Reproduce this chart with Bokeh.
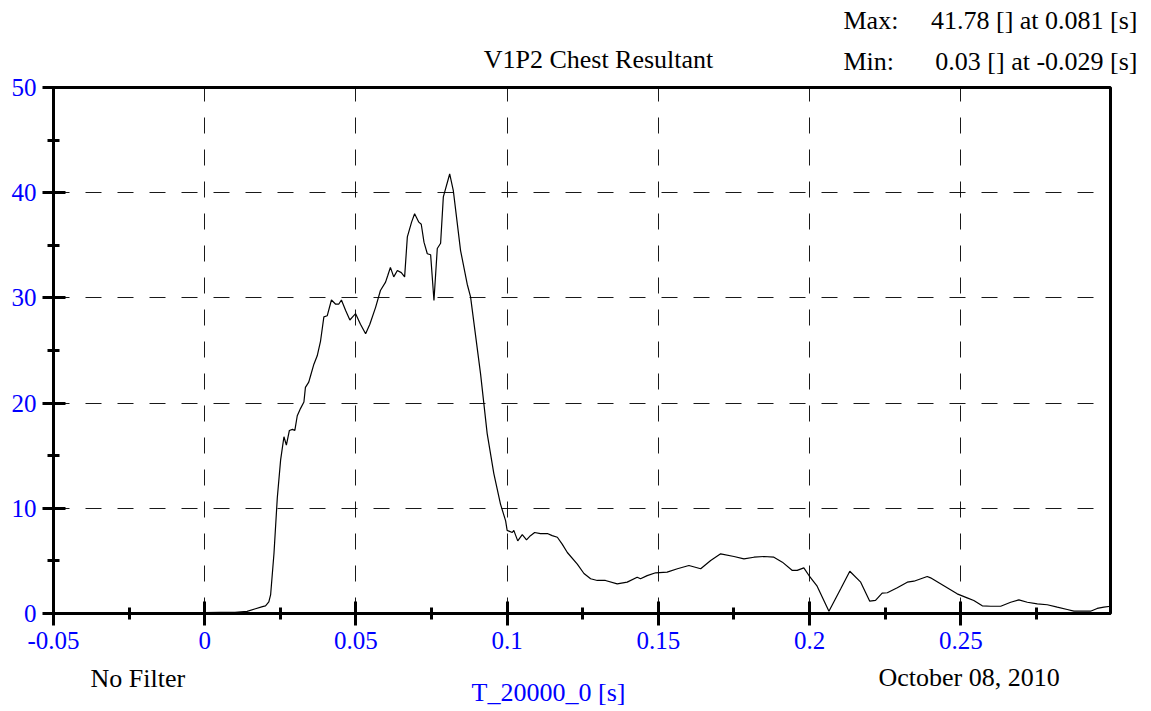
from bokeh.plotting import figure
from bokeh.models import Range1d, FixedTicker, CustomJSTickFormatter, Label
from bokeh.layouts import column
from bokeh.embed import file_html
from bokeh.resources import INLINE

# ---- data ----
time_s = [-0.05, -0.04, -0.029, -0.02, -0.01, 0.0, 0.005, 0.010, 0.014, 0.0168,
          0.0191, 0.0201, 0.0212, 0.0218, 0.0229, 0.0240, 0.0251, 0.0262, 0.0270, 0.0280,
          0.0290, 0.0298, 0.0306, 0.0317, 0.0328, 0.0333, 0.0344, 0.0350, 0.0361, 0.0372,
          0.0383, 0.0394, 0.0405, 0.0419, 0.0433, 0.0443, 0.0452, 0.0466, 0.0480, 0.0489,
          0.0499, 0.0515, 0.0532, 0.0546, 0.0565, 0.0581, 0.0598, 0.0605, 0.0614, 0.0625,
          0.0637, 0.0650, 0.0661, 0.0670, 0.0675, 0.0684, 0.0694, 0.0708, 0.0716, 0.0725,
          0.0736, 0.0747, 0.0758, 0.0769, 0.0780, 0.0789, 0.0810, 0.0822, 0.0846, 0.0868,
          0.0879, 0.0912, 0.0934, 0.0956, 0.0978, 0.0995, 0.1000, 0.1017, 0.1022, 0.1035,
          0.1050, 0.1064, 0.1077, 0.1091, 0.1110, 0.1133, 0.1149, 0.1166, 0.1182, 0.1199,
          0.1232, 0.1254, 0.1276, 0.1298, 0.1325, 0.1364, 0.1397, 0.1430, 0.1441, 0.1463,
          0.1491, 0.1529, 0.1563, 0.1601, 0.1640, 0.1673, 0.1706, 0.1750, 0.1783, 0.1816,
          0.1849, 0.1882, 0.1910, 0.1943, 0.1959, 0.1981, 0.1998, 0.2025, 0.2064, 0.2103,
          0.2133, 0.2169, 0.2199, 0.2218, 0.2240, 0.2257, 0.2290, 0.2323, 0.2345, 0.2389,
          0.2400, 0.2433, 0.2488, 0.2521, 0.2543, 0.2571, 0.2599, 0.2632, 0.2665, 0.2692,
          0.2720, 0.2753, 0.2786, 0.2819, 0.2852, 0.2874, 0.2907, 0.2929, 0.2951, 0.2973,
          0.2995]
chest_res = [0.08, 0.06, 0.03, 0.05, 0.06, 0.08, 0.10, 0.12, 0.20, 0.45,
             0.65, 0.72, 1.1, 1.8, 5.7, 11.0, 14.6, 16.8, 16.0, 17.4,
             17.5, 17.4, 18.8, 19.5, 20.1, 21.5, 22.0, 22.6, 23.7, 24.5,
             25.9, 28.2, 28.3, 29.8, 29.4, 29.4, 29.8, 28.8, 27.9, 28.2,
             28.5, 27.5, 26.6, 27.5, 29.1, 30.7, 31.5, 32.1, 32.9, 32.0,
             32.6, 32.4, 32.0, 35.8, 36.3, 37.2, 38.0, 37.2, 37.0, 35.3,
             34.2, 34.1, 29.75, 34.7, 35.2, 39.6, 41.78, 40.2, 34.5, 31.3,
             30.1, 22.8, 17.1, 13.3, 10.4, 8.8, 7.9, 7.7, 7.9, 6.9,
             7.5, 7.0, 7.4, 7.7, 7.6, 7.6, 7.4, 7.25, 6.6, 5.8,
             4.7, 3.8, 3.3, 3.14, 3.14, 2.82, 2.98, 3.45, 3.3, 3.6,
             3.87, 3.93, 4.25, 4.56, 4.25, 5.04, 5.67, 5.42, 5.2, 5.35,
             5.42, 5.35, 4.88, 4.09, 4.1, 4.34, 3.61, 2.6, 0.22, 2.35,
             4.02, 2.98, 1.17, 1.24, 1.93, 1.97, 2.44, 2.98, 3.07, 3.52,
             3.39, 2.82, 1.87, 1.49, 1.24, 0.73, 0.69, 0.69, 1.07, 1.3,
             1.07, 0.92, 0.83, 0.6, 0.38, 0.22, 0.22, 0.22, 0.48, 0.6,
             0.69]

x_ticks = [-0.05, 0.0, 0.05, 0.1, 0.15, 0.2, 0.25, 0.3]
x_minor = [-0.025, 0.025, 0.075, 0.125, 0.175, 0.225, 0.275]
y_ticks = [0, 10, 20, 30, 40, 50]
y_minor = [5, 15, 25, 35, 45]

title_text = "V1P2 Chest Resultant"
max_label, max_text = "Max:", "41.78 [] at 0.081 [s]"
min_label, min_text = "Min:", "0.03 [] at -0.029 [s]"
filter_text = "No Filter"
date_text = "October 08, 2010"
x_axis_title = "T_20000_0 [s]"

SERIF = "Liberation Serif"
BLUE = "#0000ff"
W = 1145
TOP_H = 74
MAIN_BOTTOM = 663
BOT_H = 45


def text_panel(height, y_top):
    f = figure(width=W, height=height, x_range=Range1d(0, W),
               y_range=Range1d(y_top + height, y_top),
               min_border=0, x_axis_location=None, y_axis_location=None,
               output_backend="svg", toolbar_location=None,
               background_fill_color="white", border_fill_color="white")
    f.frame_align = False
    f.outline_line_color = None
    f.xgrid.visible = False
    f.ygrid.visible = False
    return f


def add_text(fig, x, y, txt, align="left", color="black"):
    fig.add_layout(Label(x=x, y=y, text=txt, text_font=SERIF, text_font_size="26px",
                         text_color=color, text_align=align, text_baseline="middle"))


# ---- top text panel ----
top = text_panel(TOP_H, 0)
add_text(top, 598, 59, title_text, align="center")
add_text(top, 843, 20, max_label)
add_text(top, 1137, 20, max_text, align="right")
add_text(top, 843, 60.5, min_label)
add_text(top, 1137, 60.5, min_text, align="right")

# ---- main chart ----
p = figure(frame_width=1057, frame_height=526,
           min_border_left=53, min_border_right=W - 1110,
           min_border_top=87 - TOP_H, min_border_bottom=MAIN_BOTTOM - 613,
           x_range=Range1d(-0.05, 0.2995), y_range=Range1d(0, 50),
           output_backend="svg", toolbar_location=None,
           background_fill_color="white", border_fill_color="white")
p.frame_align = False

p.outline_line_color = "black"
p.outline_line_width = 3
p.outline_line_alpha = 1

p.xaxis.ticker = FixedTicker(ticks=x_ticks, minor_ticks=x_minor)
p.yaxis.ticker = FixedTicker(ticks=y_ticks, minor_ticks=y_minor)
p.xaxis.formatter = CustomJSTickFormatter(
    code="var s = tick.toFixed(3).replace(/\\.?0+$/, ''); return s === '-0' ? '0' : s;")

for ax in (p.xaxis[0], p.yaxis[0]):
    ax.axis_line_width = 3
    ax.axis_line_color = "black"
    ax.major_tick_line_width = 3
    ax.minor_tick_line_width = 3
    ax.major_tick_line_color = "black"
    ax.minor_tick_line_color = "black"
    ax.major_label_text_font = SERIF
    ax.major_label_text_font_size = "25px"
    ax.major_label_text_color = BLUE

p.xaxis.major_tick_in = 12
p.xaxis.major_tick_out = 12
p.xaxis.minor_tick_in = 6
p.xaxis.minor_tick_out = 6
p.xaxis.major_label_standoff = 6

p.yaxis.major_tick_in = 12
p.yaxis.major_tick_out = 11
p.yaxis.minor_tick_in = 6
p.yaxis.minor_tick_out = 6
p.yaxis.major_label_standoff = 6

for g in (p.xgrid[0], p.ygrid[0]):
    g.grid_line_color = "black"
    g.grid_line_width = 1
    g.grid_line_dash = "16 16"
    g.grid_line_alpha = 0.9

p.line(time_s, chest_res, line_color="black", line_width=1.2)

# ---- bottom text panel ----
bot = text_panel(BOT_H, MAIN_BOTTOM)
add_text(bot, 90, 678, filter_text)
add_text(bot, 878, 677, date_text)
add_text(bot, 548, 692, x_axis_title, align="center", color=BLUE)

layout = column(top, p, bot, spacing=0)
open("out.html", "w").write(file_html(layout, INLINE))
